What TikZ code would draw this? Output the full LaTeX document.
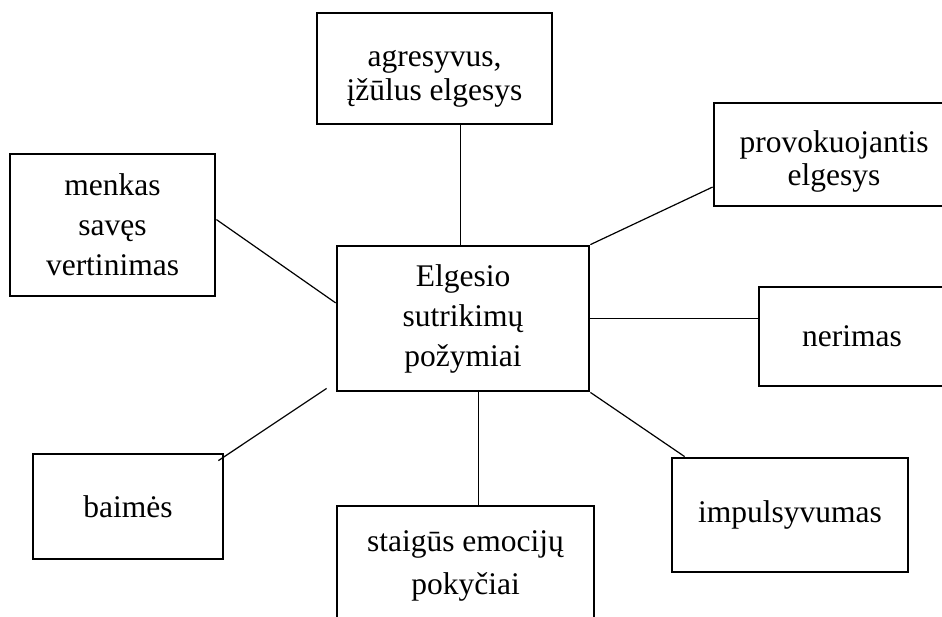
\documentclass[tikz,border=0pt]{standalone}
\usepackage{fontspec}
\setmainfont{Liberation Serif}
\usetikzlibrary{calc}
\begin{document}
\begin{tikzpicture}[x=0.5pt,y=-0.5pt,
  box/.style={draw,line width=1.4pt,inner sep=0pt,align=center,font=\fontsize{15.75}{17}\selectfont},
  link/.style={line width=0.6pt}]
 %page frame, boxes at the edges are cut off
 \useasboundingbox (0,0) rectangle (942,616);
 \clip (0,0) rectangle (942,616);

 %centre box
 \node[box,minimum width=126pt,minimum height=72.5pt] (cen) at (463,318.5) {Elgesio\\[3pt]sutrikimų\\[3pt]požymiai};

 %outer boxes
 \node[box,minimum width=117.5pt,minimum height=55.5pt] (agr) at (434.5,68.5) {\rule{0pt}{18.5pt}agresyvus,\\įžūlus elgesys};
 \node[box,minimum width=120pt,minimum height=51.5pt] (prov) at (834,154.5) {\rule{0pt}{18pt}provokuojantis\\[-0.5pt]elgesys};
 \node[box,minimum width=102.5pt,minimum height=71pt] (menk) at (112.5,225) {menkas\\[3pt]savęs\\[3pt]vertinimas};
 \node[box,minimum width=93pt,minimum height=49.5pt] (ner) at (852,336.5) {nerimas};
 \node[box,minimum width=95pt,minimum height=52.5pt] (baim) at (128,506.5) {baimės};
 \node[box,minimum width=128.5pt,minimum height=60pt] (staig) at (465.5,566) {staigūs emocijų\\[4.5pt]pokyčiai};
 \node[box,minimum width=118pt,minimum height=57pt] (imp) at (790,515) {impulsyvumas};

 %lines to the centre box
 \draw[link] (cen.92) -- (cen.92 |- agr.south);
 \draw[link] (cen.north east) -- (prov.195);
 \draw[link] (cen.173) -- (menk.3);
 \draw[link] (cen.east) -- (cen.east -| ner.west);
 \draw[link] ($(baim.north east)+(-6,8)$) -- ($(cen.south west)+(-9,-4)$);
 \draw[link] (cen.-78) -- (cen.-78 |- staig.north);
 \draw[link] (cen.south east) -- (imp.151);
\end{tikzpicture}
\end{document}
